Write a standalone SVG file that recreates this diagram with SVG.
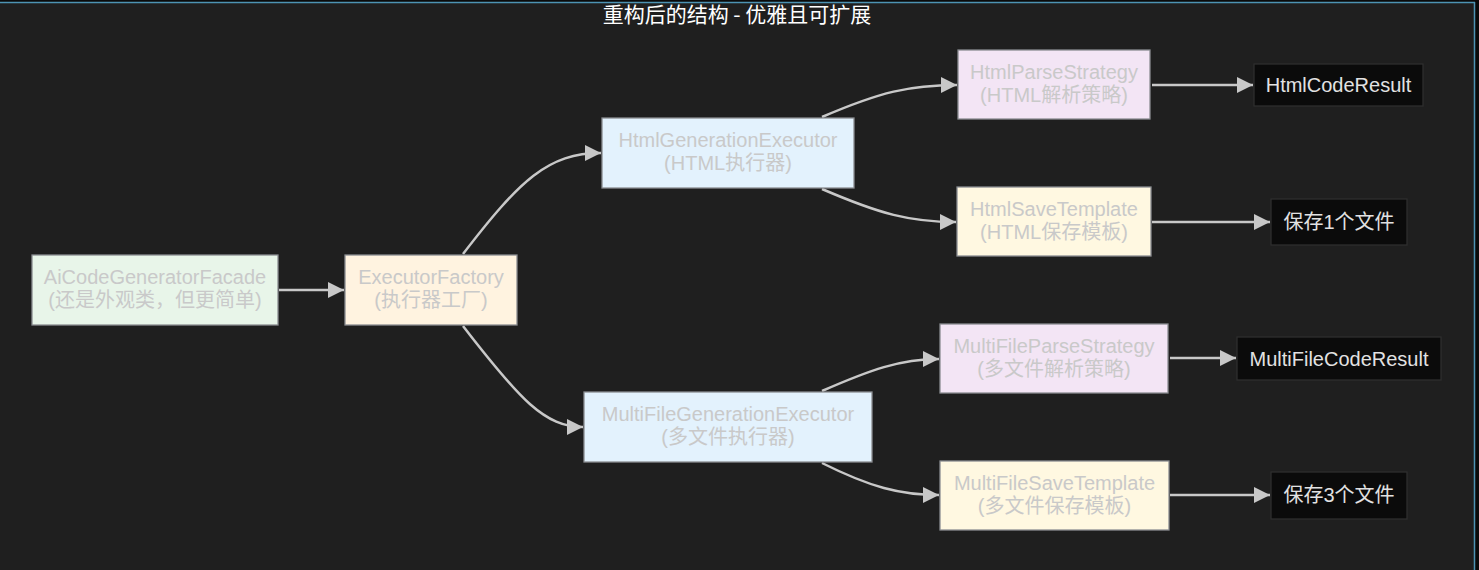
<svg xmlns="http://www.w3.org/2000/svg" width="1479" height="570" viewBox="0 0 1479 570">
<defs>
<style>
.bg{fill:#1f1f1f}
.n rect{stroke:#8a8d91;stroke-width:1.3}
.n text{font-family:"Liberation Sans","Noto Sans CJK SC",sans-serif;font-size:20px;fill:#c9c9c9;text-anchor:middle}
.d rect{fill:#0b0b0b;stroke:#2e2e2e;stroke-width:1.3}
.d text{font-family:"Liberation Sans","Noto Sans CJK SC",sans-serif;font-size:20px;fill:#e2e2e2;text-anchor:middle}
.g rect{fill:#e8f5e9}
.o rect{fill:#fff3e0}
.b rect{fill:#e3f2fd}
.p rect{fill:#f3e5f5}
.y rect{fill:#fff8e1}
.e path{fill:none;stroke:#c8c8c8;stroke-width:2.5;marker-end:url(#ah)}
.title{font-family:"Noto Sans CJK SC","Noto Sans",sans-serif;font-size:21px;fill:#ffffff;text-anchor:middle}
</style>
<marker id="ah" markerUnits="userSpaceOnUse" markerWidth="18" markerHeight="18" refX="16" refY="8" orient="auto">
<path d="M0,0 L16,8 L0,16 z" fill="#c8c8c8"/>
</marker>
</defs>
<rect x="0" y="0" width="1479" height="570" fill="#0a0a0a"/>
<rect class="bg" x="0" y="3" width="1474" height="567"/>
<line x1="0" y1="2.5" x2="1475" y2="2.5" stroke="#4d93b3" stroke-width="1.5"/>
<line x1="1474.5" y1="2" x2="1474.5" y2="570" stroke="#4d93b3" stroke-width="1.5"/>
<text class="title" x="737" y="22">重构后的结构 - 优雅且可扩展</text>

<g id="edges" class="e">
<path d="M279,290 L344,290"/>
<path d="M463,254 C520,180 548,153 601,153"/>
<path d="M463,326 C520,400 545,427 583,427"/>
<path d="M822,117 C880,92 910,85 957,85"/>
<path d="M822,189 C880,214 910,222 956,222"/>
<path d="M1152,85 L1253,85"/>
<path d="M1152,222 L1270,222"/>
<path d="M822,391 C870,370 900,359 939,359"/>
<path d="M822,463 C870,487 900,495 939,495"/>
<path d="M1170,358 L1236,358"/>
<path d="M1170,495 L1270,495"/>
</g>

<g id="facade" class="n g">
<rect x="32" y="255" width="246" height="70"/>
<text x="155" y="284">AiCodeGeneratorFacade</text>
<text x="155" y="307">(还是外观类，但更简单)</text>
</g>
<g id="factory" class="n o">
<rect x="345" y="255" width="172" height="70"/>
<text x="431" y="284">ExecutorFactory</text>
<text x="431" y="307">(执行器工厂)</text>
</g>
<g id="htmlgen" class="n b">
<rect x="602" y="118" width="252" height="70"/>
<text x="728" y="147">HtmlGenerationExecutor</text>
<text x="728" y="170">(HTML执行器)</text>
</g>
<g id="htmlparse" class="n p">
<rect x="958" y="50" width="192" height="69"/>
<text x="1054" y="79">HtmlParseStrategy</text>
<text x="1054" y="102">(HTML解析策略)</text>
</g>
<g id="htmlsave" class="n y">
<rect x="957" y="187" width="194" height="69"/>
<text x="1054" y="216">HtmlSaveTemplate</text>
<text x="1054" y="239">(HTML保存模板)</text>
</g>
<g id="htmlresult" class="d">
<rect x="1254" y="64" width="169" height="42"/>
<text x="1338.5" y="92">HtmlCodeResult</text>
</g>
<g id="save1" class="d">
<rect x="1271" y="199" width="136" height="46"/>
<text x="1339" y="229">保存1个文件</text>
</g>
<g id="multigen" class="n b">
<rect x="584" y="392" width="288" height="70"/>
<text x="728" y="421">MultiFileGenerationExecutor</text>
<text x="728" y="444">(多文件执行器)</text>
</g>
<g id="multiparse" class="n p">
<rect x="940" y="324" width="228" height="69"/>
<text x="1054" y="353">MultiFileParseStrategy</text>
<text x="1054" y="376">(多文件解析策略)</text>
</g>
<g id="multisave" class="n y">
<rect x="940" y="461" width="229" height="69"/>
<text x="1054.5" y="490">MultiFileSaveTemplate</text>
<text x="1054.5" y="513">(多文件保存模板)</text>
</g>
<g id="multiresult" class="d">
<rect x="1237" y="337" width="204" height="43"/>
<text x="1339" y="366">MultiFileCodeResult</text>
</g>
<g id="save3" class="d">
<rect x="1271" y="472" width="136" height="47"/>
<text x="1339" y="502">保存3个文件</text>
</g>
</svg>
